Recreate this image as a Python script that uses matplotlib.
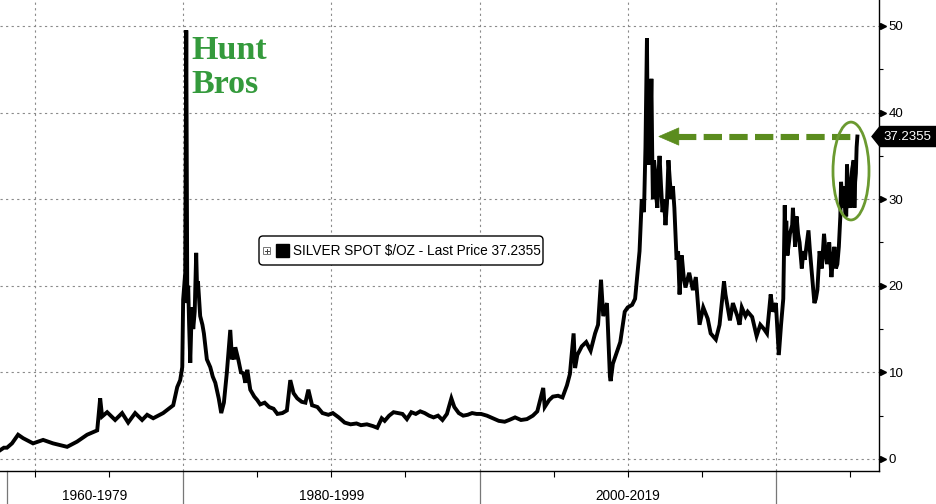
import numpy as np
import matplotlib.pyplot as plt
from matplotlib.patches import Ellipse, FancyBboxPatch, Polygon, Rectangle
import matplotlib.transforms as mtransforms

# silver spot price (decimal year, $/oz)
years = [1967.64, 1967.9, 1968.11, 1968.45, 1968.86, 1969.2, 1969.87, 1970.55, 1971.22,
         1972.17, 1972.84, 1973.52, 1974.2, 1974.4, 1974.53, 1974.87, 1975.41, 1975.88,
         1976.29, 1976.76, 1977.23, 1977.57, 1977.98, 1978.65, 1979.33, 1979.6, 1979.8,
         1979.94, 1980.0, 1980.14, 1980.21, 1980.28, 1980.34, 1980.4, 1980.48, 1980.55,
         1980.61, 1980.68, 1980.78, 1980.88, 1980.95, 1981.0, 1981.15, 1981.3, 1981.4,
         1981.6, 1981.83, 1982.0, 1982.17, 1982.4, 1982.57, 1982.75, 1982.95, 1983.18,
         1983.3, 1983.35, 1983.45, 1983.52, 1983.72, 1983.9, 1984.06, 1984.2, 1984.33,
         1984.53, 1984.8, 1985.0, 1985.2, 1985.5, 1985.8, 1986.1, 1986.36, 1986.7, 1987.0,
         1987.23, 1987.45, 1987.7, 1988.0, 1988.25, 1988.45, 1988.7, 1989.06, 1989.4,
         1989.8, 1990.1, 1990.5, 1990.9, 1991.3, 1991.7, 1992.0, 1992.4, 1992.8, 1993.1,
         1993.4, 1993.6, 1993.9, 1994.2, 1994.5, 1994.8, 1995.1, 1995.4, 1995.7, 1996.0,
         1996.3, 1996.6, 1996.9, 1997.2, 1997.5, 1997.8, 1998.1, 1998.3, 1998.6, 1998.9,
         1999.2, 1999.5, 1999.8, 2000.1, 2000.5, 2000.9, 2001.3, 2001.7, 2002.0, 2002.4,
         2002.8, 2003.2, 2003.6, 2003.9, 2004.2, 2004.3, 2004.4, 2004.7, 2004.95, 2005.3,
         2005.6, 2005.9, 2006.1, 2006.35, 2006.45, 2006.6, 2006.9, 2007.2, 2007.5, 2007.8,
         2008.0, 2008.2, 2008.35, 2008.6, 2008.8, 2008.85, 2009.0, 2009.3, 2009.5, 2009.8,
         2010.0, 2010.3, 2010.5, 2010.8, 2010.95, 2011.1, 2011.2, 2011.3, 2011.35, 2011.4,
         2011.45, 2011.5, 2011.55, 2011.6, 2011.65, 2011.7, 2011.78, 2011.85, 2011.92,
         2012.0, 2012.08, 2012.15, 2012.25, 2012.35, 2012.45, 2012.55, 2012.65, 2012.75,
         2012.85, 2012.95, 2013.05, 2013.15, 2013.3, 2013.4, 2013.5, 2013.65, 2013.78,
         2013.9, 2014.15, 2014.4, 2014.6, 2014.85, 2015.1, 2015.4, 2015.6, 2015.95, 2016.2,
         2016.5, 2016.6, 2016.9, 2017.1, 2017.4, 2017.55, 2017.7, 2017.95, 2018.1, 2018.4,
         2018.7, 2018.95, 2019.2, 2019.4, 2019.65, 2019.8, 2020.0, 2020.2, 2020.35, 2020.5,
         2020.6, 2020.65, 2020.7, 2020.78, 2020.85, 2020.95, 2021.1, 2021.15, 2021.3,
         2021.4, 2021.5, 2021.6, 2021.75, 2021.85, 2021.95, 2022.1, 2022.2, 2022.3, 2022.4,
         2022.5, 2022.6, 2022.7, 2022.8, 2022.95, 2023.1, 2023.25, 2023.35, 2023.45, 2023.6,
         2023.75, 2023.85, 2023.95, 2024.05, 2024.15, 2024.25, 2024.35, 2024.4, 2024.5,
         2024.6, 2024.68, 2024.75, 2024.8, 2024.9, 2025.0, 2025.08, 2025.15, 2025.25,
         2025.3, 2025.35, 2025.4, 2025.45, 2025.5]
prices = [1.0, 1.3, 1.3, 1.8, 2.8, 2.4, 1.8, 2.2, 1.8,
          1.4, 2.0, 2.8, 3.3, 7.0, 4.9, 5.4, 4.5, 5.3,
          4.2, 5.3, 4.5, 5.1, 4.7, 5.3, 6.2, 8.3, 9.1,
          10.6, 18.4, 21.5, 49.5, 18.0, 20.0, 15.7, 11.1, 15.5,
          17.5, 15.0, 17.0, 23.8, 19.0, 20.5, 16.5, 15.5, 14.5,
          11.5, 10.6, 9.5, 8.8, 7.0, 5.3, 6.5, 10.0, 14.9,
          11.5, 12.5, 11.5, 12.9, 11.5, 10.0, 9.9, 8.8, 10.3,
          8.0, 7.2, 6.8, 6.3, 6.5, 6.0, 5.8, 5.2, 5.3, 5.6,
          9.1, 7.6, 7.0, 6.6, 6.5, 8.0, 6.2, 6.0, 5.3,
          5.1, 5.3, 4.8, 4.2, 4.0, 4.1, 3.9, 4.0, 3.8, 3.6,
          4.7, 4.4, 5.0, 5.4, 5.3, 5.2, 4.6, 5.4, 5.2, 5.5,
          5.3, 5.0, 4.8, 5.0, 4.5, 5.2, 7.0, 6.0, 5.3, 5.0,
          5.1, 5.3, 5.2, 5.2, 5.0, 4.7, 4.4, 4.3, 4.5, 4.8,
          4.5, 4.6, 5.0, 5.5, 7.5, 8.2, 6.0, 6.8, 7.2, 7.3,
          7.1, 8.5, 9.8, 14.5, 10.5, 12.0, 13.0, 13.5, 12.5, 14.5,
          15.5, 20.7, 16.5, 18.0, 9.5, 9.0, 11.0, 12.5, 13.5, 17.0,
          17.5, 17.8, 18.5, 24.0, 30.0, 28.5, 36.0, 48.6, 38.0, 34.0,
          38.5, 37.0, 39.5, 43.9, 36.0, 30.0, 34.5, 33.0, 30.5,
          29.0, 33.0, 35.0, 31.5, 28.5, 30.0, 27.0, 29.5, 34.5,
          32.0, 30.0, 31.5, 29.0, 23.0, 24.0, 19.0, 23.5, 21.0,
          19.8, 21.5, 19.5, 21.0, 15.5, 17.5, 16.2, 14.5, 13.8, 15.5,
          20.5, 19.0, 16.0, 18.0, 16.5, 15.5, 17.5, 16.5, 17.0, 16.4,
          14.2, 15.5, 15.0, 14.5, 19.0, 17.0, 18.0, 12.0, 15.5, 18.5,
          29.3, 24.0, 27.5, 23.5, 24.5, 26.0, 27.0, 29.0, 24.5,
          28.0, 26.0, 25.0, 22.0, 24.0, 23.0, 25.0, 26.4, 24.0, 22.0,
          20.0, 18.0, 18.5, 19.5, 24.0, 22.0, 26.0, 24.0, 22.5, 25.0,
          21.0, 23.0, 24.5, 22.0, 22.5, 24.5, 28.0, 32.0, 29.0,
          31.5, 28.5, 28.0, 34.0, 30.0, 29.0, 32.0, 33.5, 34.5,
          29.0, 32.0, 33.0, 36.0, 37.2355]

decade_labels = ['1960-1979', '1980-1999', '2000-2019']
decade_bounds = [1968.1, 1980.0, 2000.0, 2020.0]
y_ticks = [0, 10, 20, 30, 40, 50]
last_price = 37.2355
series_name = 'SILVER SPOT $/OZ - Last Price'

plt.rcParams['font.family'] = ['Liberation Sans', 'DejaVu Sans']

W, H = 936, 504
fig = plt.figure(figsize=(W / 100, H / 100), dpi=100)
ax = fig.add_axes([0, 33 / H, 879 / W, 471 / H])
ax.set_xlim(1967.64, 2026.96)
ax.set_ylim(-1.39, 53.0)

# dotted grid
for v in y_ticks:
    ax.axhline(v, color='#8a8a8a', lw=0.8, ls=(0, (2, 3)), zorder=1)
for yr in range(1970, 2021, 10):
    ax.axvline(yr, color='#8a8a8a', lw=0.8, ls=(0, (2, 3)), zorder=1)

ax.plot(years, prices, color='black', lw=2.8, solid_joinstyle='miter', zorder=3)

# spines
ax.spines['left'].set_visible(False)
ax.spines['top'].set_visible(False)
ax.spines['right'].set_linewidth(1.0)
ax.spines['bottom'].set_linewidth(1.0)

# right axis
ax.yaxis.tick_right()
ax.set_yticks(y_ticks)
ax.set_yticklabels([str(v) for v in y_ticks], fontsize=9.5)
ax.tick_params(axis='y', which='major', length=0, pad=7)
ax.set_yticks([5, 15, 25, 35, 45], minor=True)
ax.tick_params(axis='y', which='minor', length=3, width=0.8, direction='out')
ytrans = ax.get_yaxis_transform()
ax.plot([1.004] * len(y_ticks), y_ticks, ls='none', marker='>', ms=5, color='black',
        transform=ytrans, clip_on=False, zorder=5)

# bottom axis: 5-year ticks, decade-range separators and labels
ax.set_xticks([y for y in range(1970, 2026, 5) if y not in (1980, 2000, 2020)])
ax.set_xticklabels([])
ax.tick_params(axis='x', which='major', length=4, width=0.8, direction='out')
xtrans = ax.get_xaxis_transform()
for b in decade_bounds:
    ax.plot([b, b], [0, -33 / 471], color='#777777', lw=0.9, transform=xtrans, clip_on=False)
for i, lab in enumerate(decade_labels):
    cx = (decade_bounds[i] + decade_bounds[i + 1]) / 2
    ax.text(cx, -25 / 471, lab, transform=xtrans, ha='center', va='center', fontsize=9.8)

# legend box
fig.canvas.draw()
ident = mtransforms.IdentityTransform()
leg = FancyBboxPatch((259, H - 265), 284, 29, boxstyle='round,pad=0,rounding_size=4',
                     facecolor='white', edgecolor='black', lw=1.0, transform=ident, zorder=10)
fig.add_artist(leg)
fig.add_artist(Rectangle((263, H - 254), 7, 7, facecolor='white', edgecolor='#777777',
                         lw=0.7, transform=ident, zorder=11))
fig.add_artist(plt.Line2D([264.5, 268.5], [H - 250.5, H - 250.5], color='#444444', lw=0.7,
                          transform=ident, zorder=12))
fig.add_artist(plt.Line2D([266.5, 266.5], [H - 252.5, H - 248.5], color='#444444', lw=0.7,
                          transform=ident, zorder=12))
fig.add_artist(Rectangle((276, H - 257), 13, 13, facecolor='black', edgecolor='black',
                         transform=ident, zorder=11))
fig.text(293 / W, 1 - 250.5 / H, '%s %.4f' % (series_name, last_price), fontsize=9.8,
         va='center', ha='left', zorder=12)

# last price tag
_, ty = ax.transData.transform((2020, last_price))
tag = Polygon([(872, ty), (880, ty + 10), (936, ty + 10), (936, ty - 10), (880, ty - 10)],
              closed=True, facecolor='black', edgecolor='black', transform=ident, zorder=10)
fig.add_artist(tag)
fig.text(907 / W, ty / H, '%.4f' % last_price, color='white', fontsize=9.5,
         ha='center', va='center', zorder=11)

# annotations
fig.text(191 / W, 1 - 35 / H, 'Hunt\nBros', family='Liberation Serif', weight='bold',
         fontsize=24.5, color='#349a3c', va='top', ha='left', linespacing=1.12)

green = '#5b8c1e'
ax.plot([2013.4, 2025.27], [last_price, last_price], color=green, lw=4.4,
        ls=(0, (3, 1.2)), solid_capstyle='butt', dash_capstyle='butt', zorder=6)
ax.add_patch(Polygon([(2012.1, last_price), (2013.45, last_price + 1.0),
                      (2013.45, last_price - 1.0)], closed=True, facecolor=green,
                     edgecolor=green, lw=0.5, zorder=6))
ax.add_patch(Ellipse((2025.07, 33.25), 2.43, 11.3, facecolor='none', edgecolor='#6b9a30',
                     lw=2.0, zorder=7))

fig.savefig('out.png', dpi=100)
